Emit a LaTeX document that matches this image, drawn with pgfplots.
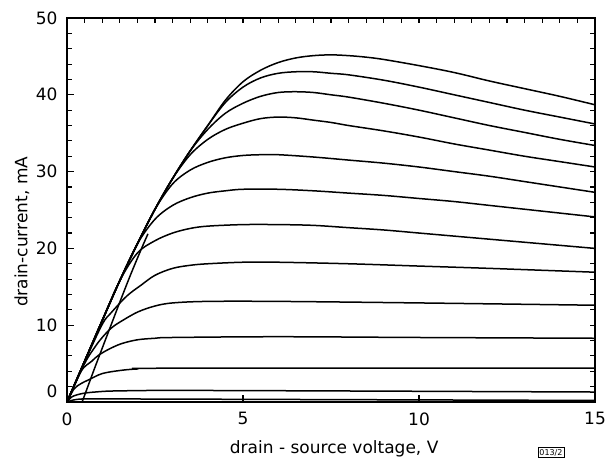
\documentclass[border=0pt]{standalone}
\usepackage{fontspec}
\setmainfont{DejaVu Sans}
\usepackage{pgfplots}
\pgfplotsset{compat=1.18}
\begin{document}
\begin{tikzpicture}
\path[use as bounding box] (-67pt,-62pt) rectangle (540pt,402pt);
\begin{axis}[
  scale only axis, width=528pt, height=384pt,
  xmin=0, xmax=15, ymin=0, ymax=50,
  axis line style={line width=1.1pt},
  tick align=inside, major tick length=7.5pt, minor tick length=5pt,
  tick style={black, line width=1.1pt},
  xtick={0,5,10,15}, xtick pos=left,
  ytick={10,20,30,40,50}, minor ytick={0,2,...,50}, ytick pos=left,
  extra y ticks={1.34}, extra y tick labels={0},
  extra y tick style={major tick length=0pt},
  font=\fontsize{17}{20}\selectfont,
  /pgf/number format/assume math mode=true,
  xticklabel style={yshift=-7pt},
  yticklabel style={xshift=-6pt},
  xlabel={drain - source voltage, V},
  ylabel={drain-current, mA},
  xlabel style={at={(rel axis cs:0.506,0)}, anchor=base, yshift=-51pt},
  ylabel style={at={(rel axis cs:0,0.443)}, anchor=center, rotate=0, yshift=45pt},
  every axis plot post/.append style={black, solid, mark=none, line width=1.5pt, smooth, tension=0.55},
]
% C1
\addplot coordinates {(0,0)(0.5,5.3)(1,10.6)(1.5,15.8)(2,20.6)(2.5,25.1)(3,29.1)(3.5,32.7)(4,36.0)(4.5,39.3)(5,41.7)(5.5,43.2)(6,44.2)(6.5,44.8)(7,45.1)(7.5,45.2)(8,45.1)(8.5,44.9)(9,44.6)(10,43.8)(11,42.9)(12,41.8)(13,40.8)(14,39.8)(15,38.7)};
% C2
\addplot coordinates {(0,0)(0.5,5.3)(1,10.6)(1.5,15.8)(2,20.6)(2.5,25.1)(3,29.1)(3.5,32.7)(4,36.0)(4.5,39.0)(5,41.0)(5.5,42.2)(6,42.8)(6.5,43.0)(7,43.0)(7.5,42.8)(8,42.6)(9,41.9)(10,41.0)(11,40.0)(12,39.0)(13,38.0)(14,37.1)(15,36.2)};
% C3
\addplot coordinates {(0,0)(0.5,5.3)(1,10.6)(1.5,15.8)(2,20.6)(2.5,25.1)(3,29.1)(3.5,32.7)(4,35.5)(4.5,37.6)(5,38.9)(5.5,39.8)(6,40.3)(6.5,40.4)(7,40.3)(7.5,40.0)(8,39.7)(9,38.9)(10,38.0)(11,37.0)(12,36.0)(13,35.1)(14,34.2)(15,33.4)};
% C4
\addplot coordinates {(0,0)(0.5,5.3)(1,10.6)(1.5,15.8)(2,20.6)(2.5,25.1)(3,29.1)(3.5,32.2)(4,34.2)(4.5,35.5)(5,36.3)(5.5,36.9)(6,37.1)(6.5,37.0)(7,36.7)(7.5,36.4)(8,36.0)(9,35.3)(10,34.5)(11,33.6)(12,32.8)(13,32.0)(14,31.3)(15,30.6)};
% C5
\addplot coordinates {(0,0)(0.5,5.3)(1,10.6)(1.5,15.8)(2,20.6)(2.5,25.1)(3,28.4)(3.5,30.2)(4,31.2)(4.5,31.8)(5,32.1)(5.5,32.2)(6,32.2)(7,31.9)(8,31.5)(9,31.1)(10,30.6)(11,30.0)(12,29.4)(13,28.7)(14,28.0)(15,27.3)};
% C6
\addplot coordinates {(0,0)(0.5,5.3)(1,10.6)(1.5,15.8)(2,20.6)(2.5,23.8)(3,25.6)(3.5,26.6)(4,27.2)(4.5,27.5)(5,27.7)(6,27.7)(7,27.5)(8,27.2)(9,26.9)(10,26.5)(11,26.1)(12,25.6)(13,25.1)(14,24.6)(15,24.1)};
% C7
\addplot coordinates {(0,0)(0.5,5.3)(1,10.6)(1.5,15.8)(2,19.4)(2.5,21.0)(3,22.0)(3.5,22.6)(4,22.9)(5,23.1)(6,23.1)(7,23.0)(8,22.7)(9,22.4)(10,22.0)(11,21.6)(12,21.2)(13,20.8)(14,20.4)(15,20.0)};
% C8
\addplot coordinates {(0,0)(0.5,5.2)(1,10.1)(1.25,11.6)(1.7,13.8)(2.1,15.2)(2.5,16.5)(3,17.4)(3.5,17.8)(4,18.0)(5,18.2)(6,18.2)(8,18.0)(10,17.7)(12,17.4)(15,16.9)};
% C9
\addplot coordinates {(0,0)(0.5,5.0)(0.8,7.2)(1,8.4)(1.25,9.6)(1.5,10.4)(2,11.7)(2.5,12.5)(3,12.9)(4,13.1)(6,13.1)(10,12.9)(15,12.6)};
% C10
\addplot coordinates {(0,0)(0.4,4.0)(0.7,5.3)(0.9,6.1)(1.2,6.9)(1.55,7.6)(2,8.1)(2.5,8.3)(3,8.4)(6,8.5)(10,8.4)(15,8.3)};
% C11
\addplot coordinates {(0,0)(0.2,1.7)(0.4,2.4)(0.62,2.9)(1,3.7)(1.5,4.1)(2,4.3)(3,4.4)(15,4.4)};
% C12
\addplot coordinates {(0,0)(0.15,0.7)(0.43,1.1)(0.8,1.3)(1.5,1.45)(4,1.5)(15,1.3)};
% C13
\addplot coordinates {(0,0)(0.3,0.35)(1,0.4)(5,0.35)(15,0.2)};
% offset branch
\addplot coordinates {(0.43,0)(0.76,4.1)(1,7.0)(1.25,10.0)(1.5,13.0)(1.8,16.5)(2.1,19.8)(2.3,21.9)};
\end{axis}
\begin{axis}[
  scale only axis, width=528pt, height=384pt,
  xmin=0, xmax=15, ymin=0, ymax=50,
  axis line style={line width=1.1pt},
  tick align=inside, major tick length=5pt,
  tick style={black, line width=1.1pt},
  xtick={0,0.5,...,15}, xtick pos=right,
  ytick={0,2,...,50}, ytick pos=right,
  xticklabels={}, yticklabels={},
]
\end{axis}
\node[draw, line width=0.6pt, inner sep=1.5pt, font=\fontsize{8}{9}\selectfont] at (484pt,-50.5pt) {013/2};
\end{tikzpicture}
\end{document}
